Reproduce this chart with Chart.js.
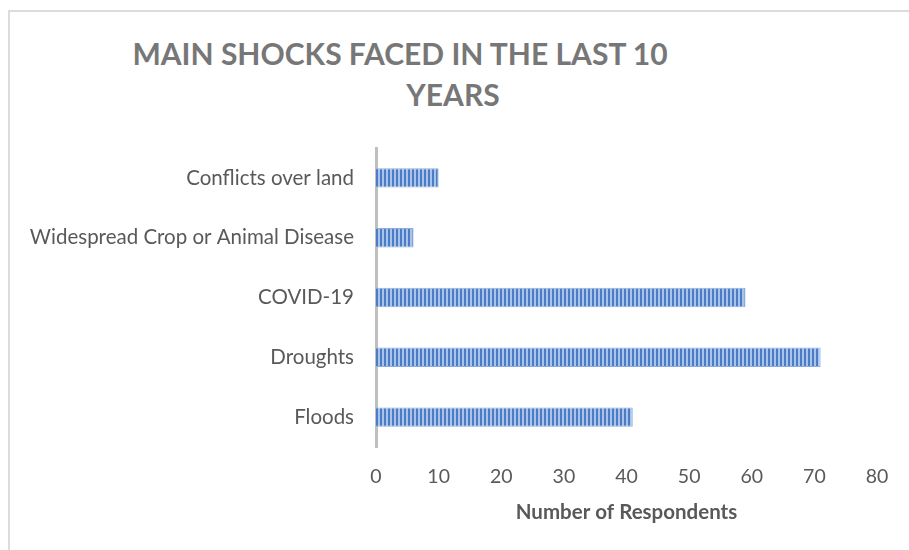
<!DOCTYPE html>
<html>
<head>
<meta charset="utf-8">
<script src="https://cdn.jsdelivr.net/npm/chart.js@4"></script>
<style>
  html, body { margin: 0; padding: 0; background: #fff; }
  #wrap { position: relative; width: 909px; height: 550px; overflow: hidden; }
  #frame { position: absolute; left: 8px; top: 10px; width: 920px; height: 600px;
           border-left: 2px solid #dcdcdc; border-top: 2px solid #dcdcdc; }
  .title { position: absolute; font-family: Lato, sans-serif; font-weight: bold;
           font-size: 30px; color: #777777; white-space: nowrap; }
  #t1 { left: 100px; top: 35px; width: 600px; text-align: center; }
  #t2 { left: 403px; top: 76px; width: 100px; text-align: center; }
  canvas { position: absolute; left: 0; top: 0; }
</style>
</head>
<body>
<div id="wrap">
  <div id="frame"></div>
  <div class="title" id="t1">MAIN SHOCKS FACED IN THE LAST 10</div>
  <div class="title" id="t2">YEARS</div>
  <canvas id="shockChart" width="909" height="550"></canvas>
</div>
<script>
const categories = ["Conflicts over land", "Widespread Crop or Animal Disease", "COVID-19", "Droughts", "Floods"];
const respondents = [10, 6, 59, 71, 41];
const xTicks = [0, 10, 20, 30, 40, 50, 60, 70, 80];

// striped fill like the Excel pattern
function stripePattern() {
    const c = document.createElement("canvas");
    c.width = 4;
    c.height = 4;
    const p = c.getContext("2d");
    p.fillStyle = "#a9c3e9";
    p.fillRect(0, 0, 4, 4);
    p.fillStyle = "#4b7cc6";
    p.fillRect(0, 0, 2, 4);
    return p.createPattern(c, "repeat");
}

const ctx = document.getElementById("shockChart").getContext("2d");

new Chart(ctx, {
    type: "bar",
    data: {
        labels: categories,
        datasets: [{
            label: "Number of Respondents",
            data: respondents,
            backgroundColor: stripePattern(),
            borderColor: "#8eaee0",
            borderWidth: 1,
            barPercentage: 0.65,
            categoryPercentage: 0.5
        }]
    },
    options: {
        indexAxis: "y",
        responsive: false,
        animation: false,
        layout: { padding: { top: 148, right: 32, bottom: 25, left: 0 } },
        plugins: {
            legend: { display: false },
            tooltip: { enabled: false }
        },
        scales: {
            x: {
                min: 0,
                max: 80,
                afterBuildTicks: (scale) => {
                    scale.ticks = xTicks.map(v => ({ value: v }));
                },
                afterFit: (scale) => { scale.height = 78; },
                grid: { display: false, drawTicks: false },
                border: { display: false },
                ticks: {
                    color: "#595959",
                    font: { family: "Lato, sans-serif", size: 19.5 },
                    padding: 18
                },
                title: {
                    display: true,
                    text: "Number of Respondents",
                    color: "#595959",
                    font: { family: "Lato, sans-serif", size: 20.5, weight: "bold" },
                    padding: { top: 0, bottom: 0 }
                }
            },
            y: {
                afterFit: (scale) => { scale.width = 376; },
                grid: { display: false, drawTicks: false },
                border: { display: true, color: "#bfbfbf", width: 3 },
                ticks: {
                    color: "#595959",
                    font: { family: "Lato, sans-serif", size: 20.5 },
                    padding: 22
                }
            }
        }
    }
});
</script>
</body>
</html>
